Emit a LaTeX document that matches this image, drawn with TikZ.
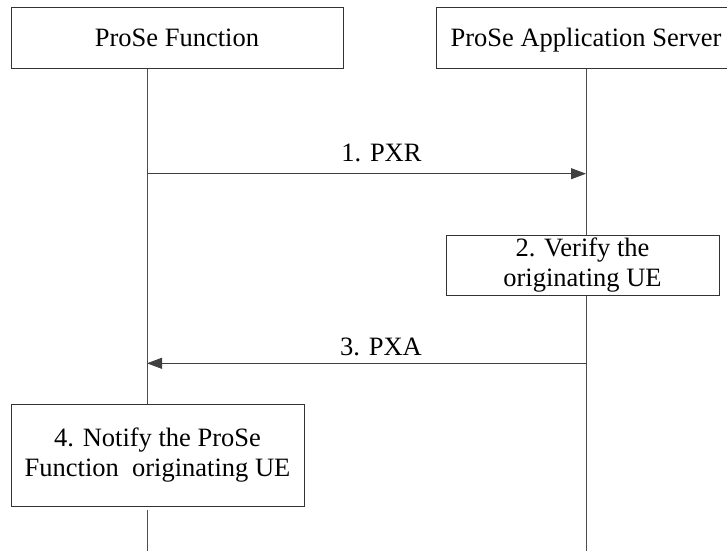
\documentclass[tikz,border=0pt]{standalone}
\usepackage{fontspec}
\setmainfont{Liberation Serif}
\usetikzlibrary{arrows.meta}
\begin{document}
\begin{tikzpicture}[x=1pt,y=-1pt,
  box/.style={draw=black!80, fill=white, line width=0.9pt, inner sep=0pt, align=center, font=\fontsize{26.5}{30.5}\selectfont},
  onebox/.style={box, text height=17.5pt, text depth=0pt},
  life/.style={draw=black!70, line width=0.9pt},
  msg/.style={draw=black!75, line width=0.9pt, -{Triangle[length=15pt,width=11pt]}},
  lbl/.style={font=\fontsize{26.5}{30}\selectfont, anchor=base, inner sep=0pt}]
\useasboundingbox (0,0) rectangle (727,551);
% lifeline anchor points
\coordinate (pftop) at (147,68);
\coordinate (pfmid) at (147,404);
\coordinate (pfres) at (147,510);
\coordinate (pfbot) at (147,551);
\coordinate (astop) at (586,68);
\coordinate (asbot) at (586,551);
\coordinate (m1s) at (147,173.7);
\coordinate (m1e) at (586,173.7);
\coordinate (m3s) at (586,363.3);
\coordinate (m3e) at (147,363.3);
% lifelines
\draw[life] (pftop) -- (pfmid);
\draw[life] (pfres) -- (pfbot);
\draw[life] (astop) -- (asbot);
% boxes
\node[onebox, minimum width=332pt, minimum height=61pt] (pf) at (177,37.5) {ProSe Function};
\node[onebox, minimum width=300pt, minimum height=61pt] (as) at (586,37.5) {ProSe Application Server};
\node[box, minimum width=273pt, minimum height=60pt] (verify) at (582.5,265) {2. Verify the\\originating UE};
\node[box, minimum width=293pt, minimum height=102pt] (notify) at (157.5,455) {4. Notify the ProSe\\Function\ \ originating UE};
% messages
\draw[msg] (m1s) -- node[lbl, pos=0.534, yshift=12.7pt] (l1) {1. PXR} (m1e);
\draw[msg] (m3s) -- node[lbl, pos=0.467, yshift=8.3pt] (l3) {3. PXA} (m3e);
\end{tikzpicture}
\end{document}
